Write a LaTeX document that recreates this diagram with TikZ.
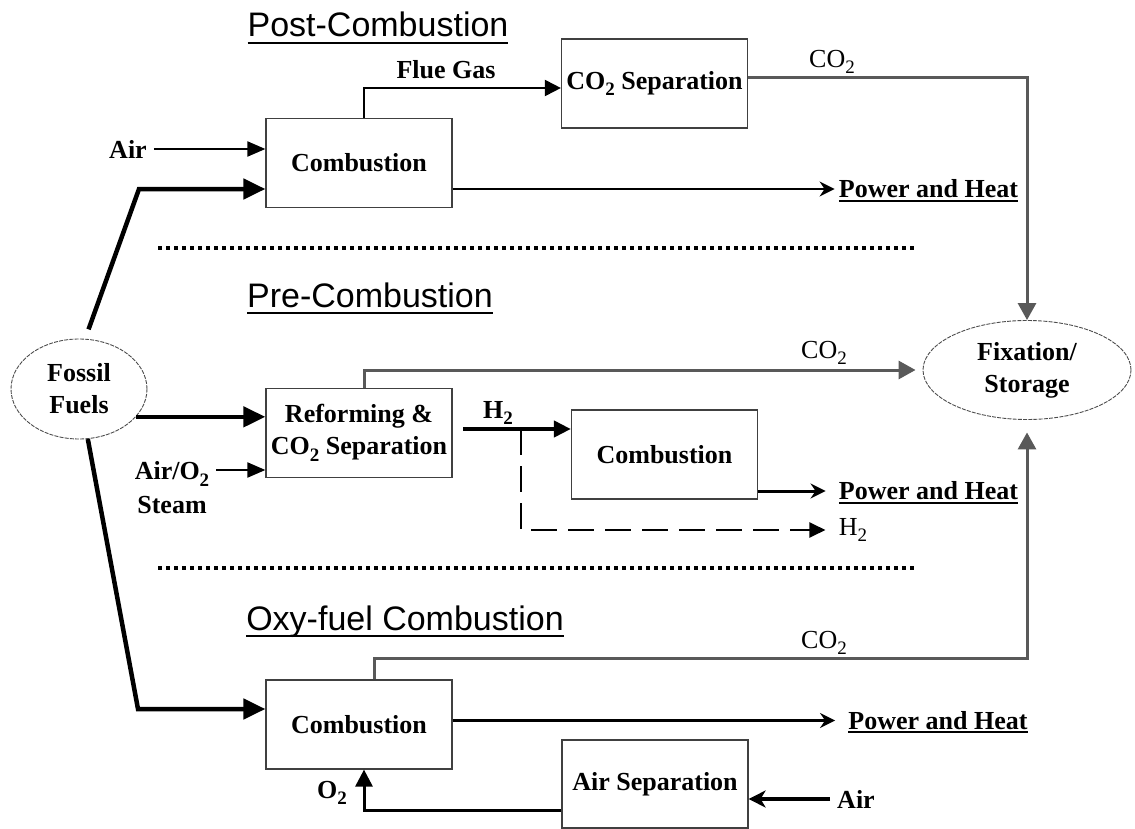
\documentclass[tikz,border=0pt]{standalone}
\usepackage{fontspec}
\setmainfont{Liberation Serif}
\newfontfamily\titlefont{Liberation Sans}
\usetikzlibrary{positioning, arrows.meta, shapes.geometric}

% underline that keeps the node's depth unchanged
\newcommand{\undertext}[2][2pt]{\setbox0\hbox{#2}\rlap{\smash{\rule[-#1]{\wd0}{1pt}}}\box0}
% deep subscript as in the chemical formulas
\newcommand{\lowsub}[1]{\raisebox{-3.2pt}{\fontsize{9.5}{9.5}\selectfont #1}}

\begin{document}
\begin{tikzpicture}[
  x=0.5pt, y=-0.5pt,
  every node/.style={font=\fontsize{13}{16}\selectfont\bfseries},
  proc/.style={draw=black!75, line width=0.6pt, minimum width=93pt, minimum height=44.5pt,
               align=center, inner sep=0pt},
  store/.style={ellipse, draw=black!70, line width=0.45pt, dash pattern=on 2pt off 0.6pt,
                align=center, inner sep=0pt},
  lbl/.style={inner sep=2pt},
  gas/.style={font=\fontsize{13}{16}\selectfont, inner sep=2pt},
  ttl/.style={font=\titlefont\fontsize{17}{20}\selectfont, anchor=base},
  fuel/.style={-{Triangle[length=11pt, width=10pt]}, line width=2.25pt},
  feed/.style={-{Triangle[length=9pt, width=7.5pt]}, line width=1pt},
  co2/.style={-{Triangle[length=8.5pt, width=9pt]}, line width=1.5pt, black!65},
  power/.style={-{Stealth[length=7.5pt, width=7.5pt, inset=2.5pt]}, line width=1pt},
  hdash/.style={-{Triangle[length=8pt, width=7.5pt]}, line width=1pt, dash pattern=on 13pt off 5.5pt},
  sep/.style={line width=2.2pt, dash pattern=on 2.2pt off 1.8pt}
]
\useasboundingbox (0,0) rectangle (1135,829);

%% Section titles
\node[ttl] (posttitle) at (378,37) {\undertext[3.5pt]{Post-Combustion}};
\node[ttl] (pretitle)  at (370,307) {\undertext[3.5pt]{Pre-Combustion}};
\node[ttl] (oxytitle)  at (405,630) {\undertext[3.5pt]{Oxy-fuel Combustion}};

%% Source and sink
\node[store, minimum width=68pt, minimum height=50pt] (fossil) at (79,389) {Fossil\\Fuels};
\node[store, minimum width=104pt, minimum height=49.5pt] (fix) at (1027,370) {Fixation/\\Storage};

%% 1. Post-combustion
\node[proc] (comb1) at (359,163) {Combustion};
\node[proc] (cosep) at (654.5,83.5) {CO\lowsub{2} Separation};
\node (air1) at (128,149) {Air};
\node[lbl] (flue) at (446,70) {Flue Gas};
\node[gas] (co2a) at (832,62) {CO\lowsub{2}};
\node[lbl] (ph1) at (928.5,189) {\undertext{Power and Heat}};

%% 2. Pre-combustion
\node[proc] (reform) at (359,433) {Reforming \&\\CO\lowsub{2} Separation};
\node[proc] (comb2) at (664.5,454.5) {Combustion};
\node (airo2) at (172,474) {Air/O\lowsub{2}};
\node (steam) at (172,505) {Steam};
\node[gas] (co2b) at (824,353) {CO\lowsub{2}};
\node[lbl] (h2a) at (498,413) {H\lowsub{2}};
\node[gas] (h2b) at (853,530) {H\lowsub{2}};
\node[lbl] (ph2) at (928.5,491) {\undertext{Power and Heat}};

%% 3. Oxy-fuel combustion
\node[proc] (comb3) at (359,724.5) {Combustion};
\node[proc, minimum height=44pt] (airsep) at (655,784) {Air Separation};
\node[gas] (co2c) at (824,643) {CO\lowsub{2}};
\node[lbl] (ph3) at (938,720.5) {\undertext{Power and Heat}};
\node (o2) at (332,793) {O\lowsub{2}};
\node (air3) at (856,799) {Air};

%% Separators
\draw[sep] (158,248) -- (916,248);
\draw[sep] (158,568) -- (916,568);

%% ---- Arrows ----
% Fossil fuels -> three routes
\coordinate (kpost) at (139,189);
\coordinate (koxy) at (138,709);
\draw[fuel, shorten <=5pt] (fossil.83) -- (kpost) -- (kpost -| comb1.west);
\draw[fuel] (fossil.-26) -- (fossil.-26 -| reform.west);
\draw[fuel] (fossil.-80) -- (koxy) -- (koxy -| comb3.west);

% Post-combustion
\draw[feed] (air1) -- (air1 -| comb1.west);
\draw[feed, -{Triangle[length=8pt, width=8pt]}] ([xshift=2.5pt]comb1.north) |- ([yshift=-2.25pt]cosep.west);
\draw[co2] ([yshift=2.75pt]cosep.east) -| (fix.north);
\draw[power] (comb1.east |- ph1.west) -- (ph1.west);

% Pre-combustion
\coordinate (hstart) at (463,429);
\coordinate (hsplit) at (521,429);
\draw[feed] ([yshift=2pt]airo2.east) -- ([yshift=2pt]airo2.east -| reform.west);
\draw[co2, shorten >=3.5pt] ([xshift=2.5pt]reform.north) |- (fix.west);
\draw[feed, line width=2pt, -{Triangle[length=8.5pt, width=8pt]}] (hstart) -- (hstart -| comb2.west);
\draw[hdash, shorten >=4.5pt] (hsplit) |- (h2b.west);
\draw[power, line width=1.5pt, shorten >=4.5pt] (comb2.east |- ph2.west) -- (ph2.west);

% Oxy-fuel combustion
\draw[co2, shorten >=6.25pt] ([xshift=7.5pt]comb3.north) -- ++(0,-21) -| (fix.south);
\draw[power, line width=1.5pt, shorten >=4.5pt] (comb3.east |- ph3.west) -- (ph3.west);
\draw[-{Stealth[length=8.5pt, width=8.5pt, inset=2.5pt]}, line width=2pt] (air3) -- (air3 -| airsep.east);
\draw[-{Triangle[length=8.5pt, width=8.5pt]}, line width=1.5pt] ([yshift=-13pt]airsep.west) -| ([xshift=2.5pt]comb3.south);

\end{tikzpicture}
\end{document}
